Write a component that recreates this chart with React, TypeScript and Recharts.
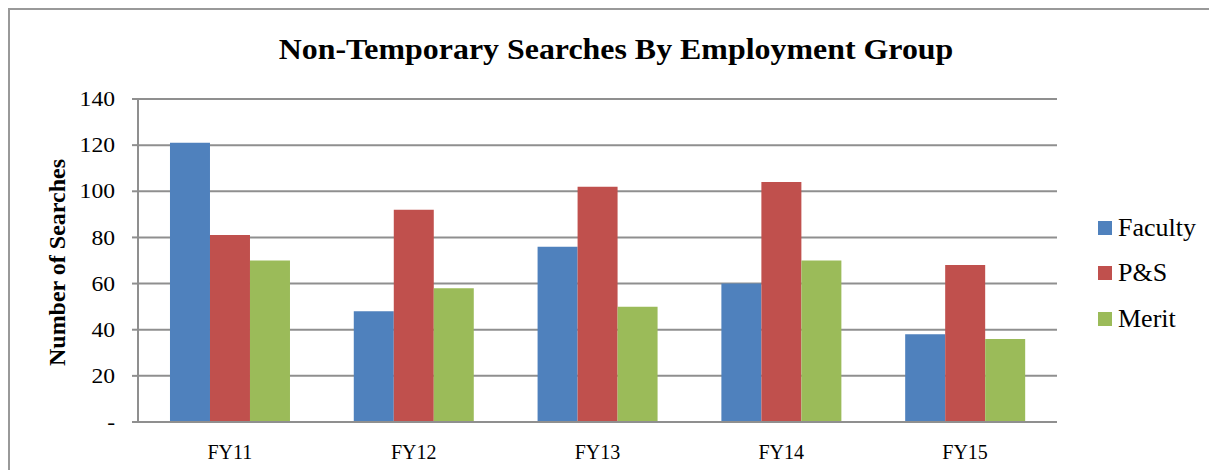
import { Bar, BarChart, CartesianGrid, XAxis, YAxis } from "recharts";

const CATEGORIES = ["FY11", "FY12", "FY13", "FY14", "FY15"];
const FACULTY = [121, 48, 76, 60, 38];
const PS = [81, 92, 102, 104, 68];
const MERIT = [70, 58, 50, 70, 36];
const Y_TICKS = [0, 20, 40, 60, 80, 100, 120, 140];

const SERIES = [
  { key: "Faculty", color: "#4f81bd" },
  { key: "P&S", color: "#c0504d" },
  { key: "Merit", color: "#9bbb59" },
];

const FONT = '"Liberation Serif", "Times New Roman", serif';
const GRID = "#8f8f8f";

const data = CATEGORIES.map((name, i) => ({
  name,
  Faculty: FACULTY[i],
  "P&S": PS[i],
  Merit: MERIT[i],
}));

function AxisTitle(props: any) {
  const vb = props.viewBox || { y: 0, height: 0 };
  const cy = vb.y + vb.height / 2 + 2;
  return (
    <text
      x={55}
      y={cy}
      transform={`rotate(-90, 55, ${cy})`}
      textAnchor="middle"
      fontFamily={FONT}
      fontWeight="bold"
      fontSize={24}
      fill="#000"
    >
      Number of Searches
    </text>
  );
}

// the source picture is slightly stretched sideways, so widen the y tick text a bit
function YTick({ x, y, payload }: any) {
  const label = payload.value === 0 ? "-" : String(payload.value);
  return (
    <text
      x={x}
      y={y}
      dy="0.355em"
      textAnchor="end"
      fontFamily={FONT}
      fontSize={20}
      fill="#000"
      transform={`translate(${x},${y}) scale(1.18,1) translate(${-x},${-y})`}
    >
      {label}
    </text>
  );
}

export default function App() {
  return (
    <div
      style={{
        position: "relative",
        width: 1209,
        height: 462,
        boxSizing: "border-box",
        borderTop: "2px solid #999",
        borderLeft: "2px solid #999",
        fontFamily: FONT,
      }}
    >
      <div
        style={{
          position: "absolute",
          top: 25,
          left: 606,
          transform: "translateX(-50%) scaleX(1.1)",
          whiteSpace: "nowrap",
          fontSize: 29,
          lineHeight: 1,
          fontWeight: "bold",
          color: "#000",
        }}
      >
        Non-Temporary Searches By Employment Group
      </div>

      <BarChart
        width={1207}
        height={460}
        data={data}
        margin={{ top: 89, right: 160, bottom: 18, left: 0 }}
        barCategoryGap="17.4%"
        barGap={0}
      >
        <CartesianGrid vertical={false} stroke={GRID} strokeWidth={2} />
        <XAxis
          dataKey="name"
          height={30}
          tickLine={false}
          tickMargin={17}
          axisLine={{ stroke: GRID, strokeWidth: 2 }}
          tick={{ fill: "#000", fontSize: 20, fontFamily: FONT }}
        />
        <YAxis
          width={128}
          domain={[0, 140]}
          ticks={Y_TICKS}
          interval={0}
          tickSize={6}
          tickMargin={17}
          axisLine={{ stroke: GRID, strokeWidth: 2 }}
          tickLine={{ stroke: GRID, strokeWidth: 2 }}
          tick={YTick}
          label={{ content: AxisTitle }}
        />
        {SERIES.map((s) => (
          <Bar key={s.key} dataKey={s.key} fill={s.color} isAnimationActive={false} />
        ))}
      </BarChart>

      <div
        style={{
          position: "absolute",
          left: 1088,
          top: 195,
          display: "flex",
          flexDirection: "column",
        }}
      >
        {SERIES.map((s) => (
          <div
            key={s.key}
            style={{ display: "flex", alignItems: "center", height: 45.5 }}
          >
            <span
              style={{
                display: "inline-block",
                width: 14,
                height: 14,
                background: s.color,
                marginRight: 6,
              }}
            />
            <span style={{ fontSize: 26, lineHeight: 1, color: "#000" }}>{s.key}</span>
          </div>
        ))}
      </div>
    </div>
  );
}
